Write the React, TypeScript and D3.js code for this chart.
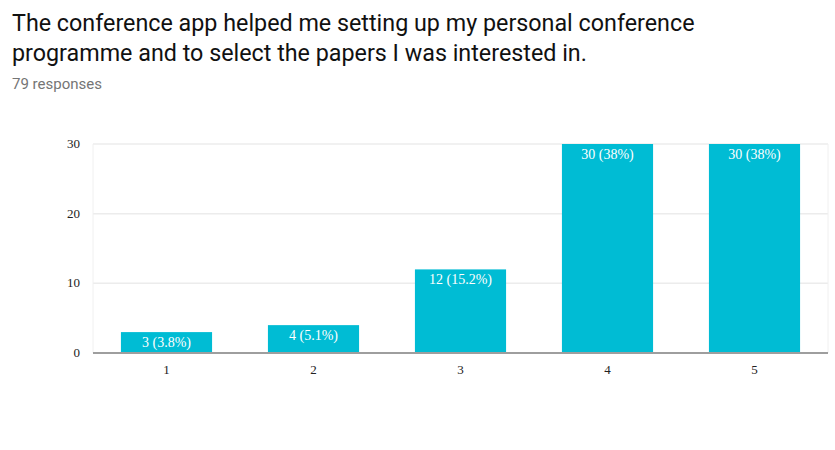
import React from "react";
import * as d3 from "d3";

const categories = ["1", "2", "3", "4", "5"];
const counts = [3, 4, 12, 30, 30];
const percentLabels = ["3.8%", "5.1%", "15.2%", "38%", "38%"];
const yTicks = [0, 10, 20, 30];

const W = 835;
const H = 450;
const margin = { left: 93, right: 7, top: 144, bottom: 97 };

export default function App() {
  const x = d3
    .scaleBand<string>()
    .domain(categories)
    .range([margin.left, W - margin.right])
    .paddingInner(0.38)
    .paddingOuter(0.19);
  const y = d3
    .scaleLinear()
    .domain([0, 30])
    .range([H - margin.bottom, margin.top]);

  const serif = "'Liberation Serif', 'Times New Roman', serif";
  const sans = "Roboto, Arial, sans-serif";

  return (
    <svg
      width={W}
      height={H}
      style={{ position: "absolute", left: 0, top: 0, background: "#fff" }}
    >
      <text x={12} y={31} fontFamily={sans} fontSize={23.3} fill="#111">
        The conference app helped me setting up my personal conference
      </text>
      <text x={12} y={61} fontFamily={sans} fontSize={23.3} fill="#111">
        programme and to select the papers I was interested in.
      </text>
      <text x={12} y={89} fontFamily={sans} fontSize={15} fill="#757575">
        79 responses
      </text>

      {yTicks.map((t) => (
        <g key={t}>
          {t !== 0 && (
            <line
              x1={margin.left}
              x2={W - margin.right}
              y1={y(t)}
              y2={y(t)}
              stroke="#ececec"
              strokeWidth={1.5}
            />
          )}
          <text
            x={80}
            y={y(t) + 4}
            textAnchor="end"
            fontFamily={serif}
            fontSize={13}
            fill="#222"
          >
            {t}
          </text>
        </g>
      ))}
      <line x1={margin.left} x2={margin.left} y1={margin.top} y2={y(0)} stroke="#f0f0f0" strokeWidth={1} />
      <line x1={W - margin.right} x2={W - margin.right} y1={margin.top} y2={y(0)} stroke="#f0f0f0" strokeWidth={1} />

      {categories.map((c, i) => {
        const bx = x(c)!;
        const by = y(counts[i]);
        return (
          <g key={c}>
            <rect
              x={bx}
              y={by}
              width={x.bandwidth()}
              height={y(0) - by}
              fill="#00BCD4"
            />
            <text
              x={bx + x.bandwidth() / 2}
              y={by + 15}
              textAnchor="middle"
              fontFamily={serif}
              fontSize={14}
              fill="#fff"
            >
              {`${counts[i]} (${percentLabels[i]})`}
            </text>
            <text
              x={bx + x.bandwidth() / 2}
              y={y(0) + 21}
              textAnchor="middle"
              fontFamily={serif}
              fontSize={13}
              fill="#222"
            >
              {c}
            </text>
          </g>
        );
      })}
      <line x1={margin.left} x2={W - margin.right} y1={y(0)} y2={y(0)} stroke="#9e9e9e" strokeWidth={2} />
    </svg>
  );
}
